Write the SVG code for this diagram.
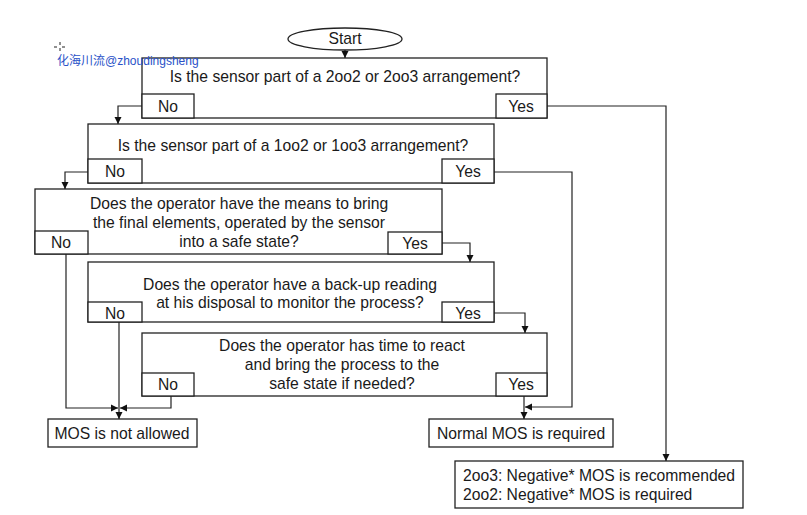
<svg xmlns="http://www.w3.org/2000/svg" width="807" height="515" viewBox="0 0 807 515">
<style>
.b{fill:#fff;stroke:#222;stroke-width:1.3}
.t{font-family:"Liberation Sans",Arial,sans-serif;font-size:15.7px;fill:#1a1a1a;text-anchor:middle}
.l{text-anchor:start}
.c{fill:none;stroke:#222;stroke-width:1.2}
.w{font-family:"Liberation Sans","Noto Sans CJK SC",sans-serif;font-size:12px;fill:#2a52c8}
</style>
<defs>
<marker id="a" markerWidth="8" markerHeight="8" refX="7" refY="4" orient="auto" markerUnits="userSpaceOnUse">
<path d="M0,0.5 L7,4 L0,7.5 Z" fill="#111"/>
</marker>
</defs>
<rect width="807" height="515" fill="#fff"/>
<g id="start">
<ellipse class="b" cx="345" cy="39" rx="57" ry="11"/>
<text class="t" x="345" y="43.5" font-size="12.5">Start</text>
</g>
<g id="q1">
<rect class="b" x="142" y="58" width="405" height="60"/>
<text class="t" x="345" y="82">Is the sensor part of a 2oo2 or 2oo3 arrangement?</text>
<rect class="b" x="142" y="94" width="52" height="24"/>
<text class="t" x="168" y="112">No</text>
<rect class="b" x="496" y="94" width="51" height="24"/>
<text class="t" x="521" y="112">Yes</text>
</g>
<g id="q2">
<rect class="b" x="88" y="124" width="406" height="59"/>
<text class="t" x="293" y="151">Is the sensor part of a 1oo2 or 1oo3 arrangement?</text>
<rect class="b" x="88" y="159" width="54" height="24"/>
<text class="t" x="115" y="177">No</text>
<rect class="b" x="442" y="159" width="52" height="24"/>
<text class="t" x="468" y="177">Yes</text>
</g>
<g id="q3">
<rect class="b" x="35" y="189" width="407" height="65"/>
<text class="t" x="239" y="209">Does the operator have the means to bring</text>
<text class="t" x="239" y="228">the final elements, operated by the sensor</text>
<text class="t" x="239" y="247">into a safe state?</text>
<rect class="b" x="35" y="231" width="53" height="23"/>
<text class="t" x="61" y="248">No</text>
<rect class="b" x="388" y="232" width="54" height="22"/>
<text class="t" x="415" y="249">Yes</text>
</g>
<g id="q4">
<rect class="b" x="88" y="262" width="406" height="60"/>
<text class="t" x="290" y="290">Does the operator have a back-up reading</text>
<text class="t" x="290" y="308">at his disposal to monitor the process?</text>
<rect class="b" x="88" y="302" width="54" height="20"/>
<text class="t" x="115" y="319">No</text>
<rect class="b" x="442" y="302" width="52" height="20"/>
<text class="t" x="468" y="319">Yes</text>
</g>
<g id="q5">
<rect class="b" x="142" y="333" width="405" height="63"/>
<text class="t" x="342" y="351">Does the operator has time to react</text>
<text class="t" x="342" y="370">and bring the process to the</text>
<text class="t" x="342" y="389">safe state if needed?</text>
<rect class="b" x="142" y="373" width="52" height="23"/>
<text class="t" x="168" y="390">No</text>
<rect class="b" x="496" y="373" width="51" height="23"/>
<text class="t" x="521" y="390">Yes</text>
</g>
<g id="notallowed">
<rect class="b" x="48" y="419" width="149" height="28"/>
<text class="t" x="122" y="439">MOS is not allowed</text>
</g>
<g id="normal">
<rect class="b" x="429" y="419" width="184" height="28"/>
<text class="t" x="521" y="439">Normal MOS is required</text>
</g>
<g id="negative">
<rect class="b" x="455" y="461" width="288" height="47"/>
<text class="t l" x="463" y="481">2oo3: Negative* MOS is recommended</text>
<text class="t l" x="463" y="500">2oo2: Negative* MOS is required</text>
</g>
<g id="connectors">
<path class="c" d="M345,50 V58" marker-end="url(#a)"/>
<path class="c" d="M142,106 H118 V124" marker-end="url(#a)"/>
<path class="c" d="M547,106 H666 V461" marker-end="url(#a)"/>
<path class="c" d="M88,172 H65 V189" marker-end="url(#a)"/>
<path class="c" d="M494,172 H572 V407 H525" marker-end="url(#a)"/>
<path class="c" d="M442,243 H470 V262" marker-end="url(#a)"/>
<path class="c" d="M66,254 V408 H118" marker-end="url(#a)"/>
<path class="c" d="M494,313 H525 V333" marker-end="url(#a)"/>
<path class="c" d="M119,322 V419" marker-end="url(#a)"/>
<path class="c" d="M171,396 V408 H120" marker-end="url(#a)"/>
<path class="c" d="M524,396 V419" marker-end="url(#a)"/>
</g>
<g id="watermark">
<path d="M60,42 v3 M60,48 v3 M54,47 h3 M62,47 h3" stroke="#222" stroke-width="1"/>
<text class="w" x="57" y="65">化海川流@zhoudingsheng</text>
</g>
</svg>
